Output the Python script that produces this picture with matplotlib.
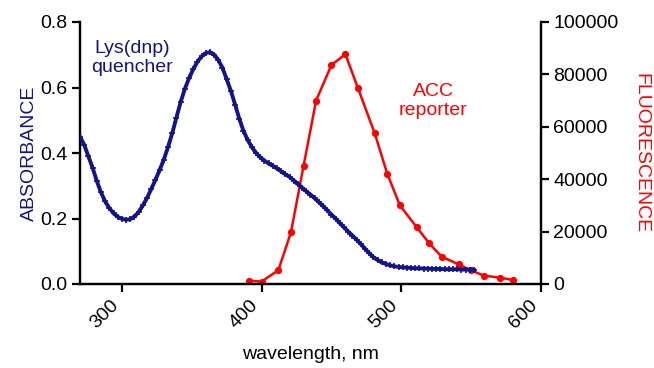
import numpy as np
import matplotlib
matplotlib.use("Agg")
import matplotlib.pyplot as plt

plt.rcParams['font.family'] = ['Liberation Sans', 'DejaVu Sans']

# absorbance of the Lys(dnp) quencher, every 3 nm
abs_wl = list(range(270, 553, 3))
abs_val = [0.450, 0.425, 0.390, 0.355, 0.315, 0.280, 0.252, 0.232, 0.216, 0.205,
           0.199, 0.196, 0.198, 0.206, 0.220, 0.240, 0.263, 0.290, 0.318, 0.348,
           0.380, 0.418, 0.460, 0.508, 0.555, 0.595, 0.628, 0.655, 0.678, 0.695,
           0.705, 0.708, 0.700, 0.684, 0.660, 0.625, 0.590, 0.548, 0.505, 0.468,
           0.440, 0.418, 0.400, 0.387, 0.377, 0.368, 0.361, 0.353, 0.344, 0.335,
           0.327, 0.316, 0.305, 0.294, 0.283, 0.273, 0.262, 0.250, 0.238, 0.225,
           0.212, 0.200, 0.186, 0.173, 0.160, 0.148, 0.135, 0.122, 0.108, 0.094,
           0.082, 0.073, 0.066, 0.061, 0.057, 0.054, 0.052, 0.051, 0.050, 0.049,
           0.048, 0.048, 0.047, 0.047, 0.046, 0.046, 0.046, 0.045, 0.045, 0.045,
           0.045, 0.044, 0.044, 0.044, 0.043]

# fluorescence of the ACC reporter
fl_wl = [391, 400, 412, 421, 430, 439, 450, 460, 469, 481,
         490, 499, 511, 520, 529, 541, 550, 559, 571, 580]
fl_val = [1300, 900, 5300, 19700, 45000, 70000, 83600, 87700, 74700, 57500,
          42000, 30000, 21700, 15500, 10400, 7500, 5200, 3200, 2400, 1500]

navy = '#14148a'
red = '#ff0000'
fs = 14

fig = plt.figure(figsize=(6.54, 3.68), dpi=100)
ax = fig.add_axes([80/654, 1 - 284/368, (541 - 80)/654, (284 - 22)/368])
ax2 = ax.twinx()

ax.plot(abs_wl, abs_val, color=navy, lw=2.8, marker='+', ms=4, mew=1.2, zorder=3)
ax2.plot(fl_wl, fl_val, color=red, lw=1.8, marker='o', ms=4.2, zorder=2)

ax.set_xlim(270, 600)
ax.set_ylim(0, 0.8)
ax2.set_ylim(0, 100000)
ax.set_xticks([300, 400, 500, 600])
ax.set_yticks([0.0, 0.2, 0.4, 0.6, 0.8])
ax.set_yticklabels(['0.0', '0.2', '0.4', '0.6', '0.8'])
ax2.set_yticks(range(0, 100001, 20000))

for a in (ax, ax2):
    a.spines['top'].set_visible(False)
    for s in a.spines.values():
        s.set_linewidth(1.6)
    a.tick_params(width=1.6, length=6, labelsize=fs, direction='out', pad=3)
ax.set_zorder(ax2.get_zorder() + 1)
ax.patch.set_visible(False)

for lbl in ax.get_xticklabels():
    lbl.set_rotation(45)
    lbl.set_ha('right')
    lbl.set_va('top')

ax.set_xlabel('wavelength, nm', fontsize=fs, labelpad=10)
ax.set_ylabel('ABSORBANCE', fontsize=fs, color=navy, labelpad=2)
ax2.set_ylabel('FLUORESCENCE', fontsize=fs, color=red, rotation=270, labelpad=22)

ax.text(307, 0.69, 'Lys(dnp)\nquencher', color=navy, fontsize=fs,
        ha='center', va='center', linespacing=1.15)
ax.text(523, 0.56, 'ACC\nreporter', color=red, fontsize=fs,
        ha='center', va='center', linespacing=1.15)

fig.savefig('out.png', dpi=100)
